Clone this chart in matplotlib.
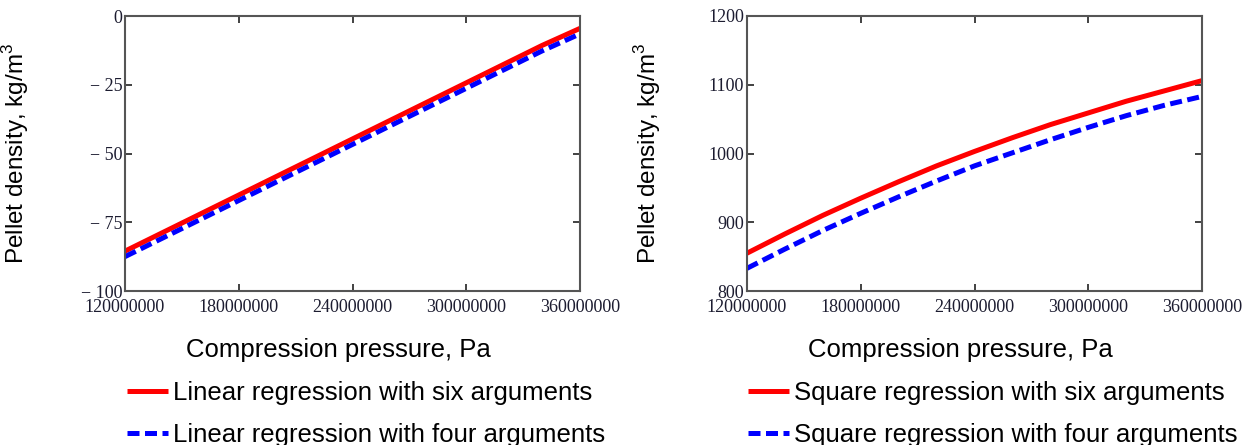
import numpy as np
import matplotlib
matplotlib.use("Agg")
import matplotlib.pyplot as plt
from matplotlib.ticker import FuncFormatter

# Datos (presión en Pa)
pressure = [120e6, 140e6, 160e6, 180e6, 200e6, 220e6, 240e6,
            260e6, 280e6, 300e6, 320e6, 340e6, 360e6]

lin_six = [-85.5, -78.7, -71.9, -65.1, -58.3, -51.5, -44.7,
           -37.9, -31.1, -24.3, -17.5, -10.7, -4.5]
lin_four = [-87.5, -80.7, -73.9, -67.1, -60.3, -53.5, -46.7,
            -39.9, -33.1, -26.3, -19.5, -12.7, -6.5]

sq_six = [855, 883, 910, 935, 959, 982, 1003, 1023, 1042, 1059, 1076, 1091, 1106]
sq_four = [833, 861, 888, 913, 937, 960, 982, 1001, 1020, 1038, 1055, 1070, 1083]

x_ticks = [120e6, 180e6, 240e6, 300e6, 360e6]
left_yticks = [0, -25, -50, -75, -100]
right_yticks = [800, 900, 1000, 1100, 1200]

xlabel = "Compression pressure, Pa"
ylabel = "Pellet density, kg/m$^3$"
left_labels = ["Linear regression with six arguments", "Linear regression with four arguments"]
right_labels = ["Square regression with six arguments", "Square regression with four arguments"]

plt.rcParams['font.family'] = ['Liberation Sans', 'DejaVu Sans']
plt.rcParams['mathtext.fontset'] = 'custom'
plt.rcParams['mathtext.rm'] = 'Liberation Sans'

W, H = 1257, 445
fig = plt.figure(figsize=(W / 100, H / 100), dpi=100)
ax1 = fig.add_axes([125 / W, 1 - 291 / H, 455 / W, 275 / H])
ax2 = fig.add_axes([747 / W, 1 - 291 / H, 455 / W, 275 / H])


def style_axes(ax, yticks, ylim, labels, y1, y2, ylab_x, leg_x):
    l1, = ax.plot(pressure, y1, color='#ff0000', lw=3.6, solid_capstyle='butt')
    l2, = ax.plot(pressure, y2, color='#0000ff', lw=3.6, dashes=(2.4, 1.1))
    ax.set_xlim(120e6, 360e6)
    ax.set_ylim(*ylim)
    ax.set_xticks(x_ticks)
    ax.set_yticks(yticks)
    ax.xaxis.set_major_formatter(FuncFormatter(lambda v, p: f"{int(round(v))}"))
    ax.yaxis.set_major_formatter(FuncFormatter(lambda v, p: f"{int(v)}".replace('-', '\u2212 ')))
    ax.tick_params(direction='in', top=True, right=True, length=5, width=1.3,
                   color='#333333', labelsize=13, labelcolor='#1c1c30')
    ax.tick_params(axis='x', pad=6)
    ax.tick_params(axis='y', pad=2)
    for lab in ax.get_xticklabels() + ax.get_yticklabels():
        lab.set_family('Liberation Serif')
    for s in ax.spines.values():
        s.set_color('#555555')
        s.set_linewidth(1.5)
    ax.set_xlabel(xlabel, fontsize=18.5, va='center')
    ax.xaxis.set_label_coords(0.47, -(350 - 291) / 275)
    ax.set_ylabel(ylabel, fontsize=17.5, va='center')
    ax.yaxis.set_label_coords(ylab_x, 0.5)
    ax.legend([l1, l2], labels, loc='upper left',
              bbox_to_anchor=(leg_x / W, 1 - 381 / H), bbox_transform=fig.transFigure,
              frameon=False, fontsize=18.5, handlelength=1.6, handletextpad=0.2,
              labelspacing=0.7, borderaxespad=0, borderpad=0)


style_axes(ax1, left_yticks, (-100, 0), left_labels, lin_six, lin_four,
           (16 - 125) / 455, 127)
style_axes(ax2, right_yticks, (800, 1200), right_labels, sq_six, sq_four,
           (648 - 747) / 455, 748)

fig.savefig("out.png", dpi=100)
